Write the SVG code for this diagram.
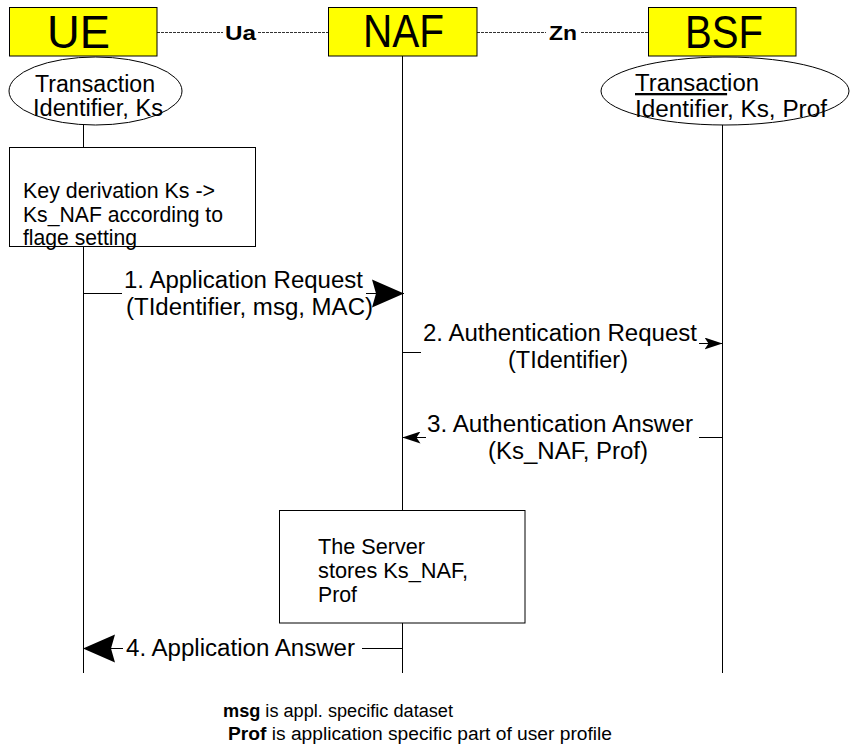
<svg xmlns="http://www.w3.org/2000/svg" width="850" height="753" viewBox="0 0 850 753">
<style>
text{font-family:"Liberation Sans",Arial,Helvetica,sans-serif;fill:#000}
.hdr{fill:#ffff00;stroke:#000;stroke-width:1}
.ht{font-size:46px}
.lbl{font-size:20px;font-weight:bold}
.m{font-size:23px}
.n{font-size:22px}
.f{font-size:18px}
.box{fill:#fff;stroke:#000;stroke-width:1}
.ell{fill:#fff;stroke:#000;stroke-width:1}
.life{stroke:#000;stroke-width:1;fill:none}
.iface{stroke:#333;stroke-width:1;stroke-dasharray:3 1;fill:none}
.msg{stroke:#000;stroke-width:1;fill:none}
</style>
<defs>
<marker id="big" markerUnits="userSpaceOnUse" viewBox="0 0 32 30" refX="32" refY="15" markerWidth="32" markerHeight="30" orient="auto">
<path d="M0,1 L32,15 L0,29 L4,15 Z" fill="#000"/>
</marker>
<marker id="small" markerUnits="userSpaceOnUse" viewBox="0 0 18 12" refX="18" refY="6" markerWidth="18" markerHeight="12" orient="auto">
<path d="M0,0 L18,6 L0,12 L4,6 Z" fill="#000"/>
</marker>
</defs>

<g id="connectors">
<line class="iface" x1="157" y1="32.5" x2="223" y2="32.5"/>
<line class="iface" x1="258" y1="32.5" x2="328" y2="32.5"/>
<line class="iface" x1="477" y1="32.5" x2="546" y2="32.5"/>
<line class="iface" x1="581" y1="32.5" x2="648" y2="32.5"/>
<text class="lbl" x="225" y="40" textLength="31" lengthAdjust="spacingAndGlyphs">Ua</text>
<text class="lbl" x="549" y="40" textLength="28" lengthAdjust="spacingAndGlyphs">Zn</text>

<line class="life" x1="83.5" y1="125" x2="83.5" y2="147.5"/>
<line class="life" x1="83.5" y1="246.5" x2="83.5" y2="673"/>
<line class="life" x1="402.5" y1="56" x2="402.5" y2="510"/>
<line class="life" x1="402.5" y1="623" x2="402.5" y2="673"/>
<line class="life" x1="722.5" y1="125" x2="722.5" y2="673"/>

<g id="msg1">
<line class="msg" x1="83.5" y1="293.5" x2="122" y2="293.5"/>
<line class="msg" x1="366" y1="293.5" x2="404" y2="293.5" marker-end="url(#big)"/>
<text class="m" x="124" y="288" textLength="239" lengthAdjust="spacingAndGlyphs">1. Application Request</text>
<text class="m" x="126" y="315" textLength="247" lengthAdjust="spacingAndGlyphs">(TIdentifier, msg, MAC)</text>
</g>
<g id="msg2">
<line class="msg" x1="402.5" y1="352.5" x2="421" y2="352.5"/>
<line class="msg" x1="699" y1="343.5" x2="722.5" y2="343.5" marker-end="url(#small)"/>
<text class="m" x="423" y="341" textLength="274" lengthAdjust="spacingAndGlyphs">2. Authentication Request</text>
<text class="m" x="508" y="368" textLength="120" lengthAdjust="spacingAndGlyphs">(TIdentifier)</text>
</g>
<g id="msg3">
<line class="msg" x1="699" y1="437.5" x2="722.5" y2="437.5"/>
<line class="msg" x1="426" y1="437.5" x2="402.5" y2="437.5" marker-end="url(#small)"/>
<text class="m" x="427" y="432" textLength="266" lengthAdjust="spacingAndGlyphs">3. Authentication Answer</text>
<text class="m" x="488" y="459" textLength="160" lengthAdjust="spacingAndGlyphs">(Ks_NAF, Prof)</text>
</g>
<g id="msg4">
<line class="msg" x1="362" y1="648.5" x2="402.5" y2="648.5"/>
<line class="msg" x1="123" y1="648.5" x2="83" y2="648.5" marker-end="url(#big)"/>
<text class="m" x="126" y="656" textLength="229" lengthAdjust="spacingAndGlyphs">4. Application Answer</text>
</g>
</g>

<g id="UE">
<rect class="hdr" x="9.5" y="7.5" width="147.5" height="48.5"/>
<text class="ht" x="47" y="48" textLength="63" lengthAdjust="spacingAndGlyphs">UE</text>
</g>
<g id="NAF">
<rect class="hdr" x="328.5" y="7.5" width="148.5" height="48.5"/>
<text class="ht" x="363" y="47" textLength="81" lengthAdjust="spacingAndGlyphs">NAF</text>
</g>
<g id="BSF">
<rect class="hdr" x="648.5" y="7.5" width="147.5" height="48.5"/>
<text class="ht" x="685" y="48" textLength="78" lengthAdjust="spacingAndGlyphs">BSF</text>
</g>

<g id="UE-state">
<ellipse class="ell" cx="95.5" cy="91" rx="86.5" ry="34"/>
<text class="m" x="35" y="92" textLength="120" lengthAdjust="spacingAndGlyphs">Transaction</text>
<text class="m" x="33" y="116" textLength="130" lengthAdjust="spacingAndGlyphs">Identifier, Ks</text>
</g>
<g id="BSF-state">
<ellipse class="ell" cx="725" cy="91" rx="124" ry="34"/>
<text class="m" x="635" y="91" textLength="124" lengthAdjust="spacingAndGlyphs"><tspan text-decoration="underline">Transact</tspan>ion</text>
<text class="m" x="635" y="117" textLength="192" lengthAdjust="spacingAndGlyphs">Identifier, Ks, Prof</text>
</g>

<g id="key-derivation">
<rect class="box" x="9.5" y="147.5" width="246" height="99"/>
<text class="n" x="23" y="198" textLength="192" lengthAdjust="spacingAndGlyphs">Key derivation Ks -&gt;</text>
<text class="n" x="23" y="222" textLength="200" lengthAdjust="spacingAndGlyphs">Ks_NAF according to</text>
<text class="n" x="23" y="245" textLength="114" lengthAdjust="spacingAndGlyphs">flage setting</text>
</g>

<g id="server-store">
<rect class="box" x="279.5" y="510.5" width="245.5" height="112.5"/>
<text class="n" x="318" y="554" textLength="107" lengthAdjust="spacingAndGlyphs">The Server</text>
<text class="n" x="318" y="578" textLength="150" lengthAdjust="spacingAndGlyphs">stores Ks_NAF,</text>
<text class="n" x="318" y="602" textLength="39" lengthAdjust="spacingAndGlyphs">Prof</text>
</g>

<g id="legend">
<text class="f" x="223" y="717" textLength="230" lengthAdjust="spacingAndGlyphs"><tspan font-weight="bold">msg</tspan> is appl. specific dataset</text>
<text class="f" x="228" y="740" textLength="384" lengthAdjust="spacingAndGlyphs"><tspan font-weight="bold">Prof</tspan> is application specific part of user profile</text>
</g>
</svg>
